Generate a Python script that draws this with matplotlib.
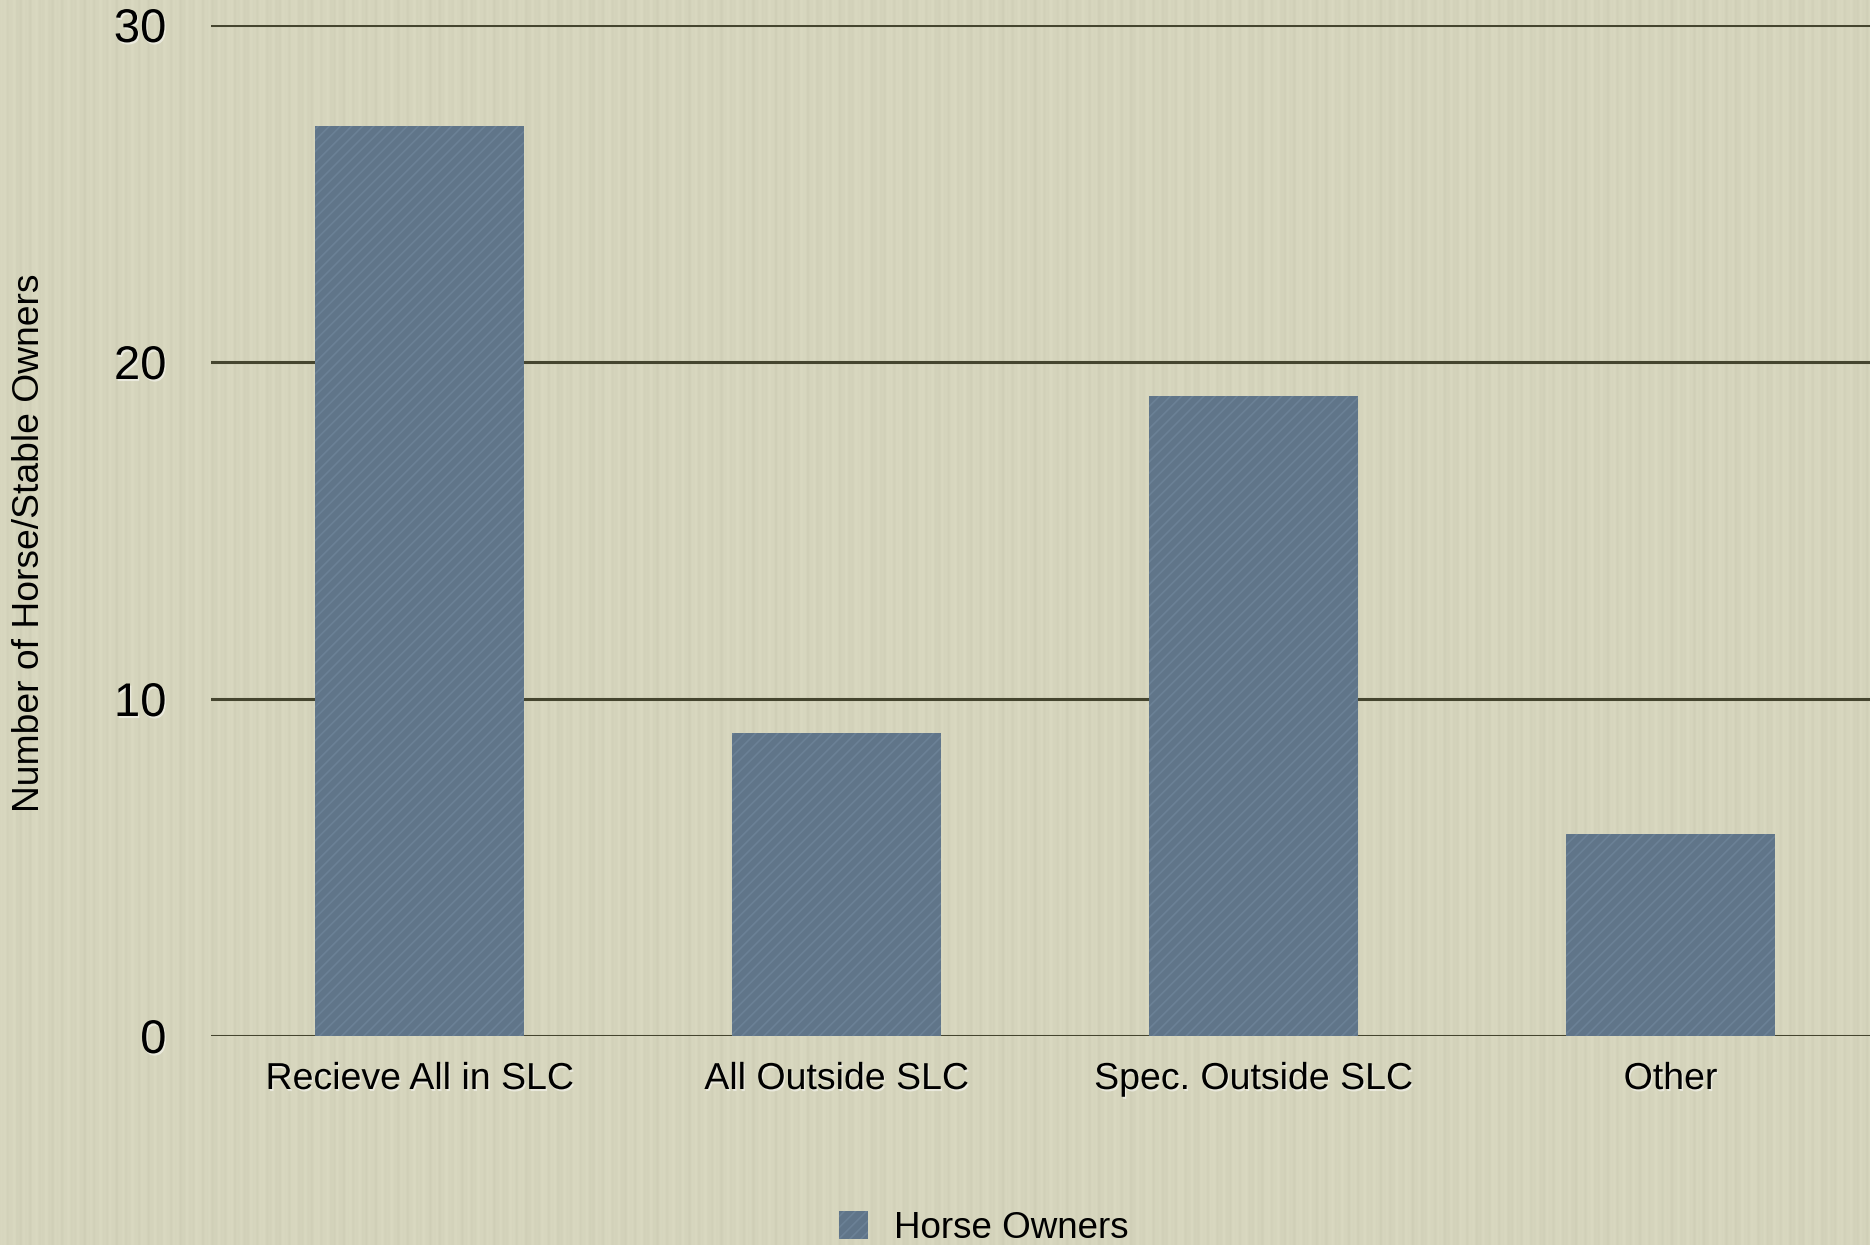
import matplotlib
matplotlib.use("Agg")
import matplotlib.pyplot as plt
import matplotlib.patheffects as pe
import numpy as np

categories = ["Recieve All in SLC", "All Outside SLC", "Spec. Outside SLC", "Other"]
horse_owners = [27, 9, 19, 6]
y_ticks = [0, 10, 20, 30]

bg = "#d8d7be"
bar_color = "#607589"
grid_color = "#45452f"

plt.rcParams["font.family"] = ["Liberation Sans", "DejaVu Sans"]
plt.rcParams["hatch.linewidth"] = 1.2

fig = plt.figure(figsize=(18.7, 12.45), dpi=100, facecolor=bg)

# faint vertical paper streaks over the whole figure (decoration only)
bgax = fig.add_axes([0, 0, 1, 1], zorder=-10)
xx = np.linspace(0, 1, 1870)
streak = (0.5 * np.sin(xx * 2 * np.pi * 173) + 0.3 * np.sin(xx * 2 * np.pi * 411 + 1.3)
          + 0.2 * np.sin(xx * 2 * np.pi * 59 + 0.4))
tex = np.tile(streak, (40, 1))
bgax.imshow(tex, cmap="Greys_r", aspect="auto", alpha=0.04, extent=[0, 1, 0, 1])
bgax.set_facecolor(bg)
bgax.axis("off")

ax = fig.add_axes([211 / 1870, 209 / 1245, 1668 / 1870, 1011 / 1245])
ax.patch.set_alpha(0)

x = np.arange(len(categories))
ax.bar(x, horse_owners, width=0.5, color=bar_color, edgecolor="#6b8196",
       linewidth=0, hatch="///", label="Horse Owners", zorder=3)

for t in y_ticks:
    ax.axhline(t, color=grid_color, lw=2.2, zorder=1)

ax.set_xlim(-0.5, 3.5)
ax.set_ylim(0, 30)
ax.set_yticks(y_ticks)
ax.set_xticks(x)
ax.set_xticklabels(categories)
ax.tick_params(axis="y", length=0, pad=32, labelsize=34)
ax.tick_params(axis="x", length=0, pad=18, labelsize=27)
for s in ax.spines.values():
    s.set_visible(False)

shadow = [pe.withSimplePatchShadow(offset=(1, -1.5), shadow_rgbFace="white", alpha=0.5)]
for lab in ax.get_xticklabels() + ax.get_yticklabels():
    lab.set_path_effects(shadow)

fig.text(30 / 1870, 1 - 543 / 1245, "Number of Horse/Stable Owners", rotation=90,
         ha="center", va="center", fontsize=26.8)

leg = fig.legend(loc="center", bbox_to_anchor=(984 / 1870, 1 - 1228 / 1245),
                 frameon=False, fontsize=26.5, handlelength=0.78, handleheight=0.78,
                 handletextpad=0.73)
for h in leg.legend_handles:
    h.set_hatch("///")

fig.savefig("out.png", dpi=100, facecolor=bg)
